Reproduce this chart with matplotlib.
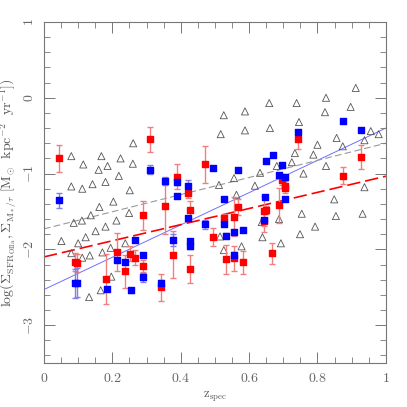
import numpy as np
import matplotlib
matplotlib.use("Agg")
import matplotlib.pyplot as plt
from matplotlib.ticker import MultipleLocator, FuncFormatter

plt.rcParams['mathtext.fontset'] = 'cm'
plt.rcParams['font.family'] = ['DejaVu Serif']

# comparison sample (open triangles)
tri_z = [0.080, 0.115, 0.168, 0.160, 0.186, 0.224, 0.261, 0.260, 0.219, 0.080,
         0.112, 0.142, 0.180, 0.251, 0.203, 0.162, 0.137, 0.111, 0.087, 0.212,
         0.249, 0.180, 0.151, 0.122, 0.100, 0.051, 0.080, 0.112, 0.134, 0.171,
         0.195, 0.238, 0.197, 0.166, 0.132, 0.515,
         0.526, 0.517, 0.588, 0.588, 0.659, 0.661, 0.739, 0.746, 0.825, 0.822,
         0.912, 0.897, 0.856, 0.800, 0.874, 0.788, 0.734, 0.725, 0.681, 0.825,
         0.759, 0.632, 0.556, 0.512, 0.617, 0.563, 0.956, 0.979, 0.9375, 0.9375,
         0.849, 0.754, 0.854, 0.932, 0.793, 0.749, 0.637, 0.6875, 0.639, 0.693,
         0.578, 0.526]
tri_y = [-0.77, -0.88, -0.77, -0.95, -0.90, -0.80, -0.60, -0.87, -1.03, -1.17,
         -1.20, -1.14, -1.11, -1.22, -1.37, -1.44, -1.55, -1.62, -1.65, -1.62,
         -1.52, -1.70, -1.76, -1.84, -1.92, -1.89, -2.05, -2.11, -2.08, -2.04,
         -1.98, -1.92, -2.36, -2.54, -2.63, -1.83,
         -0.23, -0.48, -0.18, -0.43, -0.07, -0.40, -0.07, -0.32, 0.00, -0.19,
         0.13, -0.12, -0.53, -0.62, -0.64, -0.75, -0.73, -0.85, -0.90, -0.90,
         -1.00, -0.99, -1.06, -1.15, -1.16, -1.28, -0.44, -0.48, -0.56, -1.18,
         -1.34, -1.53, -1.56, -1.53, -1.70, -1.80, -1.64, -1.60, -1.84, -1.92,
         -1.96, -2.01]

# Sigma M*/tau (blue squares)
blue_z = [0.044, 0.090, 0.098, 0.183, 0.213, 0.237, 0.254, 0.265, 0.291, 0.291,
          0.310, 0.341, 0.353, 0.377, 0.390, 0.390, 0.421, 0.421, 0.426, 0.426,
          0.470, 0.493, 0.526, 0.526, 0.532, 0.557, 0.557, 0.567, 0.582, 0.646,
          0.645, 0.649, 0.669, 0.6875, 0.697, 0.706, 0.706, 0.742, 0.874, 0.927]
blue_y = [-1.35, -2.45, -2.44, -2.52, -2.14, -2.17, -2.54, -1.88, -2.08, -2.37,
          -0.95, -2.44, -1.10, -1.88, -1.11, -1.30, -1.17, -1.58, -1.89, -1.95,
          -1.67, -0.93, -1.34, -1.66, -1.82, -1.77, -2.07, -0.95, -1.74, -1.31,
          -1.61, -0.83, -0.76, -1.02, -0.89, -1.04, -1.33, -0.45, -0.31, -0.43]
blue_err = [0.10, 0.19, 0.19, 0.02, 0.02, 0.02, 0.03, 0.02, 0.02, 0.06,
            0.06, 0.03, 0.05, 0.08, 0.04, 0.02, 0.08, 0.02, 0.02, 0.05,
            0.06, 0.01, 0.02, 0.03, 0.03, 0.02, 0.03, 0.02, 0.01, 0.02,
            0.03, 0.01, 0.01, 0.01, 0.01, 0.01, 0.02, 0.02, 0.01, 0.01]

# Sigma SFR (red squares)
red_z = [0.044, 0.090, 0.098, 0.182, 0.213, 0.237, 0.253, 0.265, 0.291, 0.291,
         0.310, 0.341, 0.353, 0.377, 0.390, 0.421, 0.426, 0.426, 0.470, 0.493,
         0.526, 0.532, 0.557, 0.557, 0.567, 0.583, 0.645, 0.645, 0.649, 0.667,
         0.6875, 0.697, 0.706, 0.706, 0.742, 0.874, 0.927]
red_y = [-0.80, -2.17, -2.18, -2.39, -2.03, -2.29, -2.06, -2.11, -1.55, -2.22,
         -0.55, -2.50, -1.43, -2.07, -1.04, -1.25, -1.48, -2.26, -0.88, -1.84,
         -1.59, -2.13, -1.57, -2.12, -1.44, -2.17, -1.49, -1.63, -1.48, -2.05,
         -1.42, -1.08, -1.16, -1.19, -0.55, -1.03, -0.78]
red_err = [0.18, 0.12, 0.12, 0.33, 0.25, 0.22, 0.10, 0.10, 0.19, 0.08,
           0.16, 0.18, 0.37, 0.31, 0.17, 0.07, 0.12, 0.19, 0.24, 0.12,
           0.06, 0.19, 0.26, 0.16, 0.11, 0.15, 0.20, 0.14, 0.05, 0.14,
           0.23, 0.07, 0.06, 0.06, 0.13, 0.11, 0.16]

# fitted relations: value at z=0 and z=1
fit_blue = [-2.53, -0.40]
fit_red = [-2.10, -1.035]
fit_gray = [-1.73, -0.60]

fig = plt.figure(figsize=(4.07, 4.07), dpi=100)
ax = fig.add_axes([0.108, 0.108, 0.840, 0.838])

ax.scatter(tri_z, tri_y, marker='^', s=26, facecolors='none',
           edgecolors='#555555', linewidths=0.6, zorder=2)

ax.errorbar(red_z, red_y, yerr=red_err, fmt='none', ecolor='#f08080',
            elinewidth=1.0, capsize=2.5, capthick=1.0, zorder=3)
ax.errorbar(blue_z, blue_y, yerr=blue_err, fmt='none', ecolor='#8080f0',
            elinewidth=1.0, capsize=2.5, capthick=1.0, zorder=3)
ax.scatter(red_z, red_y, marker='s', s=13, color='#ff0000', zorder=4)
ax.scatter(blue_z, blue_y, marker='s', s=13, color='#0000ff', zorder=4)

zz = [0, 1]
ax.plot(zz, fit_blue, color='#7070ff', lw=0.7, zorder=1)
ax.plot(zz, fit_red, color='#ff0000', lw=1.2, ls=(0, (8, 3)), zorder=1)
ax.plot(zz, fit_gray, color='#999999', lw=0.8, ls=(0, (6, 3)), zorder=1)

ax.set_xlim(0, 1)
ax.set_ylim(-3.5, 1)
ax.xaxis.set_major_locator(MultipleLocator(0.2))
ax.xaxis.set_minor_locator(MultipleLocator(0.05))
ax.yaxis.set_major_locator(MultipleLocator(1))
ax.yaxis.set_minor_locator(MultipleLocator(0.2))


def fmt(v, pos):
    if abs(v) < 1e-9:
        return r'$0$'
    if abs(v - round(v)) < 1e-9:
        return r'$%d$' % round(v)
    return r'$%.1f$' % v


ax.xaxis.set_major_formatter(FuncFormatter(fmt))
ax.yaxis.set_major_formatter(FuncFormatter(fmt))
ax.tick_params(which='both', direction='in', top=True, right=True,
               color='#777777', labelcolor='#666666', labelsize=10)
ax.tick_params(which='major', length=8, width=0.7, pad=6)
ax.tick_params(which='minor', length=4, width=0.6)
ax.tick_params(axis='y', labelrotation=90)
for lab in ax.get_yticklabels():
    lab.set_va('center')
for s in ax.spines.values():
    s.set_color('#777777')
    s.set_linewidth(0.8)

ax.set_xlabel(r'$\mathrm{z_{spec}}$', fontsize=9, color='#555555', labelpad=3)
ax.set_ylabel(r'$\mathrm{log(\Sigma_{SFR_{OIIa}},\Sigma_{M_*/\tau}\ [M_{\odot}\ \ kpc^{-2}\ \ yr^{-1}])}$',
              fontsize=10, color='#555555', labelpad=2)

fig.savefig('out.png', dpi=100, facecolor='white')
